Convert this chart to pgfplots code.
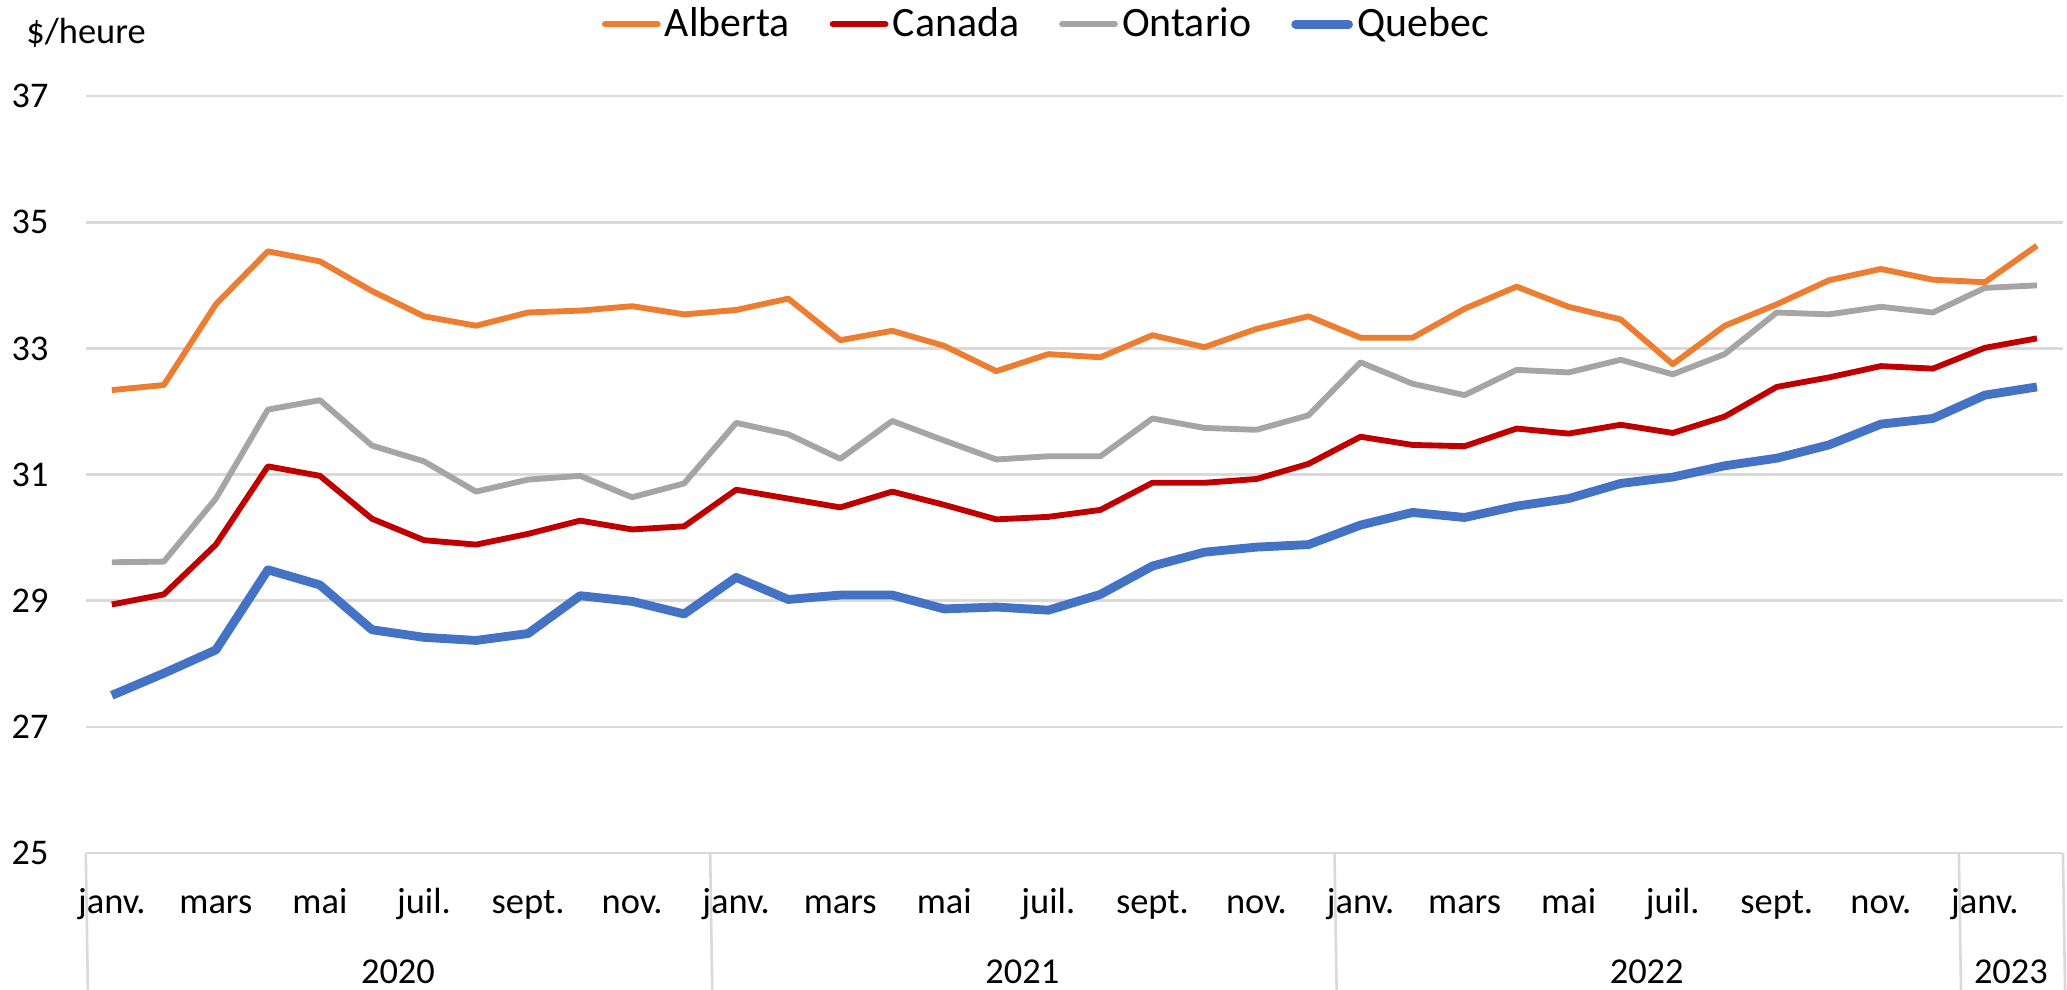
\documentclass[border=0pt]{standalone}
\usepackage{fontspec}
\setmainfont{Carlito}
\usepackage{pgfplots}
\usepackage{pgfplotstable}
\pgfplotsset{compat=1.18}
\definecolor{alb}{HTML}{ED7D31}
\definecolor{can}{HTML}{C00000}
\definecolor{ont}{HTML}{A5A5A5}
\definecolor{que}{HTML}{4472C4}
\definecolor{gridgray}{HTML}{D9D9D9}
\pgfplotstableread{
i alb can ont que
0 32.34 28.94 29.61 27.50
1 32.42 29.10 29.62 27.85
2 33.70 29.89 30.62 28.22
3 34.54 31.13 32.03 29.49
4 34.38 30.98 32.18 29.25
5 33.91 30.30 31.46 28.54
6 33.51 29.96 31.21 28.42
7 33.36 29.89 30.73 28.37
8 33.57 30.06 30.92 28.48
9 33.60 30.27 30.98 29.08
10 33.67 30.13 30.64 28.99
11 33.54 30.18 30.86 28.79
12 33.61 30.76 31.82 29.37
13 33.79 30.62 31.64 29.02
14 33.13 30.48 31.25 29.09
15 33.28 30.73 31.85 29.09
16 33.04 30.52 31.54 28.87
17 32.64 30.29 31.24 28.90
18 32.91 30.33 31.29 28.85
19 32.86 30.44 31.29 29.10
20 33.21 30.87 31.89 29.55
21 33.02 30.87 31.74 29.77
22 33.31 30.93 31.71 29.85
23 33.51 31.17 31.94 29.89
24 33.17 31.60 32.78 30.20
25 33.17 31.47 32.44 30.40
26 33.63 31.45 32.26 30.32
27 33.98 31.73 32.66 30.50
28 33.66 31.65 32.62 30.62
29 33.46 31.79 32.82 30.86
30 32.75 31.66 32.59 30.96
31 33.36 31.92 32.91 31.14
32 33.70 32.39 33.57 31.26
33 34.08 32.54 33.54 31.47
34 34.26 32.72 33.66 31.80
35 34.09 32.68 33.57 31.89
36 34.05 33.01 33.96 32.26
37 34.63 33.16 34.00 32.39
}\data
\begin{document}
\begin{tikzpicture}
\begin{axis}[
  scale only axis, width=692.0bp, height=264.9bp,
  xmin=-0.5, xmax=37.5, ymin=25, ymax=37,
  clip mode=individual,
  ytick={25,27,...,37},
  /pgf/number format/assume math mode=true,
  ymajorgrids, grid style={color=gridgray, line width=0.9bp},
  axis line style={draw=none},
  major tick length=0,
  xtick={0,2,...,36},
  xticklabels={janv.,mars,mai,juil.,sept.,nov.,janv.,mars,mai,juil.,sept.,nov.,janv.,mars,mai,juil.,sept.,nov.,janv.},
  xticklabel style={anchor=base, inner sep=0pt, yshift=-21bp, font=\fontsize{12.8}{15}\selectfont},
  yticklabel style={anchor=east, inner sep=0pt, xshift=-12.9bp, font=\fontsize{12.7}{15}\selectfont},
  legend style={draw=none, fill=none, at={(0.4864,1.0951)}, anchor=center,
    legend columns=4, font=\fontsize{14.7}{17}\selectfont,
    /tikz/every even column/.append style={column sep=12.5bp},
    nodes={inner sep=1.5bp}},
  legend image code/.code={\draw[#1, line cap=round] (0bp,0bp) -- (18.5bp,0bp);},
  every axis plot/.append style={line join=round},
]
\addplot[alb, line width=2.05bp] table[x=i, y=alb] {\data};
\addlegendentry{Alberta}
\addplot[can, line width=2.05bp] table[x=i, y=can] {\data};
\addlegendentry{Canada}
\addplot[ont, line width=2.05bp] table[x=i, y=ont] {\data};
\addlegendentry{Ontario}
\addplot[que, line width=3.1bp] table[x=i, y=que] {\data};
\addlegendentry{Quebec}
\draw[gridgray, line width=0.9bp] (axis cs:-0.5,25) -- ++(0,-47.6bp);
\draw[gridgray, line width=0.9bp] (axis cs:11.5,25) -- ++(0,-47.6bp);
\draw[gridgray, line width=0.9bp] (axis cs:23.5,25) -- ++(0,-47.6bp);
\draw[gridgray, line width=0.9bp] (axis cs:35.5,25) -- ++(0,-47.6bp);
\draw[gridgray, line width=0.9bp] (axis cs:37.5,25) -- ++(0,-47.6bp);
\node[anchor=base, inner sep=0pt, font=\fontsize{12.8}{15}\selectfont] at (axis cs:5.5,25) [yshift=-45.8bp] {2020};
\node[anchor=base, inner sep=0pt, font=\fontsize{12.8}{15}\selectfont] at (axis cs:17.5,25) [yshift=-45.8bp] {2021};
\node[anchor=base, inner sep=0pt, font=\fontsize{12.8}{15}\selectfont] at (axis cs:29.5,25) [yshift=-45.8bp] {2022};
\node[anchor=base, inner sep=0pt, font=\fontsize{12.8}{15}\selectfont] at (axis cs:36.5,25) [yshift=-45.8bp] {2023};
\end{axis}
\node[anchor=base west, inner sep=0pt, font=\fontsize{12.8}{15}\selectfont] at (-21.0bp,283.4bp) {\$/heure};
\pgfresetboundingbox
\useasboundingbox (-30.03bp,-47.6bp) rectangle (693.42bp,298.55bp);
\end{tikzpicture}
\end{document}
